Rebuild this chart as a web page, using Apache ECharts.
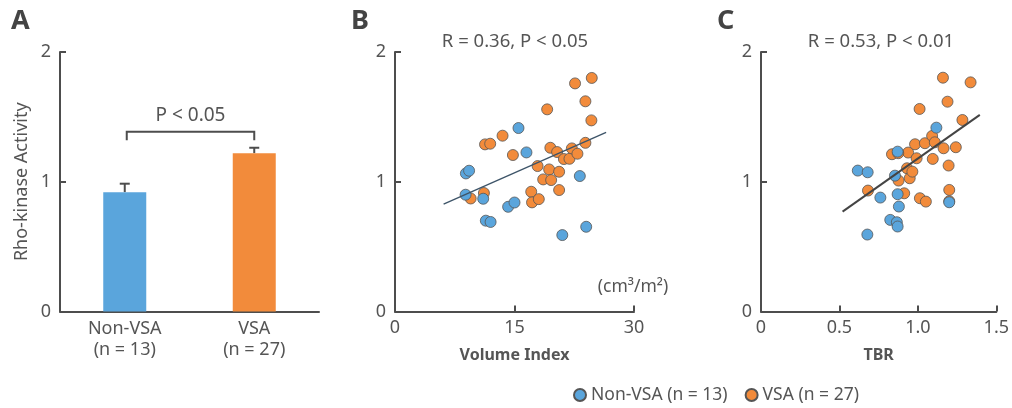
<!DOCTYPE html>
<html>
<head>
<meta charset="utf-8">
<script src="https://cdn.jsdelivr.net/npm/echarts@6/dist/echarts.min.js"></script>
<style>
html,body{margin:0;padding:0;background:#fff;}
#chart{width:1012px;height:408px;}
</style>
</head>
<body>
<div id="chart"></div>
<script>
// ---------- DATA ----------
const groupNames = ['Non-VSA (n = 13)', 'VSA (n = 27)'];
const categoriesA = ['Non-VSA\n(n = 13)', 'VSA\n(n = 27)'];
const meanA = [0.92, 1.22];
const errTopA = [0.985, 1.262];
const bracketA = [1.385, 1.32]; // bracket level, leg end
const pTextA = 'P < 0.05';

const yTicks = [0, 1, 2];
const volTicks = [0, 15, 30];
const tbrTicks = [0, 0.5, 1.0, 1.5];

// Panel B: Volume Index vs Rho-kinase activity
const volNonVSA = [[8.9,1.064],[9.3,1.085],[8.86,0.90],[11.07,0.869],[11.4,0.70],[12.0,0.69],[14.2,0.807],[15.0,0.84],[15.5,1.414],[16.5,1.226],[21.0,0.589],[23.2,1.044],[24.0,0.653]];
const volVSA = [[9.5,0.871],[11.16,0.913],[11.3,1.288],[11.95,1.293],[13.5,1.355],[14.8,1.206],[17.1,0.923],[17.2,0.841],[18.05,0.866],[17.9,1.121],[18.6,1.018],[19.1,1.558],[19.35,1.095],[19.6,1.013],[19.5,1.262],[20.35,1.229],[20.6,1.077],[20.6,0.936],[21.2,1.175],[21.9,1.177],[22.2,1.257],[22.9,1.216],[22.6,1.758],[23.9,1.62],[23.9,1.30],[24.7,1.80],[24.65,1.473]];
const fitB = [[6.1,0.828],[26.5,1.38]];
const statB = 'R = 0.36, P < 0.05';

// Panel C: TBR vs Rho-kinase activity
const tbrNonVSA = [[0.617,1.086],[0.680,1.073],[0.871,1.232],[0.854,1.047],[0.761,0.878],[0.871,0.904],[0.879,0.809],[0.824,0.706],[0.866,0.688],[0.871,0.655],[0.678,0.593],[1.118,1.417],[1.200,0.842]];
const tbrVSA = [[0.682,0.932],[0.835,1.212],[0.877,1.009],[0.913,0.911],[0.938,1.225],[0.931,1.104],[0.948,1.027],[0.965,1.078],[0.982,1.289],[0.992,1.181],[1.011,1.561],[1.013,0.873],[1.051,0.847],[1.045,1.297],[1.091,1.353],[1.095,1.176],[1.108,1.304],[1.160,1.802],[1.164,1.258],[1.189,1.617],[1.196,1.125],[1.200,0.937],[1.242,1.266],[1.284,1.476],[1.336,1.766],[0.875,1.22],[1.2,0.85]];
const fitC = [[0.52,0.77],[1.395,1.515]];
const statC = 'R = 0.53, P < 0.01';

const yName = 'Rho-kinase Activity';
const xNameB = 'Volume Index';
const xNameC = 'TBR';
const unitB = '(cm³/m²)';

// ---------- STYLE ----------
const FONT = 'Noto Sans';
const TXT = '#555';
const AX = '#4d4d4d';
const BLUE = '#5aa5dc';
const ORANGE = '#f28b3b';

const chart = echarts.init(document.getElementById('chart'), null, {renderer: 'canvas'});

function valueAxisY(gi, withName) {
  return {
    type: 'value', gridIndex: gi, min: 0, max: 2, interval: 1,
    axisLine: {show: true, lineStyle: {color: AX, width: 2}},
    axisTick: {show: true, inside: true, length: 6, lineStyle: {color: AX, width: 2}},
    axisLabel: {color: TXT, fontSize: 18, fontFamily: FONT, margin: 9},
    splitLine: {show: false},
    name: withName ? yName : '',
    nameLocation: 'middle', nameRotate: 90, nameGap: 29,
    nameTextStyle: {color: TXT, fontSize: 18, fontFamily: FONT}
  };
}
function valueAxisX(gi, max, interval, name, fmt) {
  return {
    type: 'value', gridIndex: gi, min: 0, max: max, interval: interval,
    axisLine: {show: true, onZero: false, lineStyle: {color: AX, width: 2}},
    axisTick: {show: true, inside: true, length: 6, lineStyle: {color: AX, width: 2}},
    axisLabel: {color: TXT, fontSize: 18, fontFamily: FONT, margin: 7, formatter: fmt},
    splitLine: {show: false},
    name: name, nameLocation: 'middle', nameGap: 36,
    nameTextStyle: {color: TXT, fontSize: 16, fontFamily: FONT, fontWeight: 'bold'}
  };
}

const dotStyle = (c) => ({color: c, borderColor: '#555', borderWidth: 0.8, opacity: 1});

const option = {
  animation: false,
  backgroundColor: '#fff',
  textStyle: {fontFamily: FONT},
  grid: [
    {left: 60, width: 259, top: 52, height: 259.5},
    {left: 395, width: 239, top: 52, height: 259.5},
    {left: 761, width: 239, top: 52, height: 259.5}
  ],
  xAxis: [
    {
      type: 'category', gridIndex: 0, data: categoriesA,
      axisLine: {show: true, lineStyle: {color: AX, width: 2}},
      axisTick: {show: false},
      axisLabel: {color: TXT, fontSize: 18, fontFamily: FONT, lineHeight: 21, margin: 7}
    },
    valueAxisX(1, 30, 15, xNameB, v => String(v)),
    valueAxisX(2, 1.5, 0.5, xNameC, v => v === 0 ? '0' : v.toFixed(1))
  ],
  yAxis: [valueAxisY(0, true), valueAxisY(1, false), valueAxisY(2, false)],
  legend: {
    data: groupNames, left: 568, top: 381, icon: 'circle',
    itemWidth: 12, itemHeight: 12, itemGap: 17,
    textStyle: {color: TXT, fontSize: 17.5, fontFamily: FONT}
  },
  series: [
    {
      type: 'bar', xAxisIndex: 0, yAxisIndex: 0, barWidth: 43,
      data: meanA.map((v, i) => ({value: v, itemStyle: {color: i === 0 ? BLUE : ORANGE}})),
      z: 3
    },
    {
      type: 'custom', xAxisIndex: 0, yAxisIndex: 0, z: 2,
      data: meanA.map((v, i) => [i, v, errTopA[i]]),
      renderItem: function (params, api) {
        const b = api.coord([api.value(0), api.value(1)]);
        const t = api.coord([api.value(0), api.value(2)]);
        const st = {stroke: AX, lineWidth: 2};
        return {type: 'group', children: [
          {type: 'line', shape: {x1: b[0], y1: b[1], x2: t[0], y2: t[1]}, style: st},
          {type: 'line', shape: {x1: t[0] - 5, y1: t[1], x2: t[0] + 5, y2: t[1]}, style: st}
        ]};
      }
    },
    {
      type: 'custom', xAxisIndex: 0, yAxisIndex: 0, z: 4,
      data: [[0, 1, bracketA[0], bracketA[1]]],
      renderItem: function (params, api) {
        const p1 = api.coord([api.value(0), api.value(3)]);
        const p2 = api.coord([api.value(0), api.value(2)]);
        const p3 = api.coord([api.value(1), api.value(2)]);
        const p4 = api.coord([api.value(1), api.value(3)]);
        return {type: 'group', children: [
          {type: 'polyline', shape: {points: [[p1[0] + 2, p1[1]], [p2[0] + 2, p2[1]], [p3[0], p3[1]], [p4[0], p4[1]]]},
           style: {stroke: AX, lineWidth: 2, fill: null}},
          {type: 'text', style: {text: pTextA, x: (p2[0] + p3[0]) / 2 + 1, y: p2[1] - 7,
            textAlign: 'center', textVerticalAlign: 'bottom', fill: TXT, fontSize: 19, fontFamily: FONT}}
        ]};
      }
    },
    {name: groupNames[1], type: 'scatter', xAxisIndex: 1, yAxisIndex: 1, data: volVSA, symbolSize: 11, itemStyle: dotStyle(ORANGE), z: 2},
    {name: groupNames[0], type: 'scatter', xAxisIndex: 1, yAxisIndex: 1, data: volNonVSA, symbolSize: 11, itemStyle: dotStyle(BLUE), z: 3},
    {type: 'line', xAxisIndex: 1, yAxisIndex: 1, data: fitB, symbol: 'none', lineStyle: {color: '#3d5468', width: 1.3}, z: 4, silent: true},
    {name: groupNames[1], type: 'scatter', xAxisIndex: 2, yAxisIndex: 2, data: tbrVSA, symbolSize: 11, itemStyle: dotStyle(ORANGE), z: 2},
    {name: groupNames[0], type: 'scatter', xAxisIndex: 2, yAxisIndex: 2, data: tbrNonVSA, symbolSize: 11, itemStyle: dotStyle(BLUE), z: 3},
    {type: 'line', xAxisIndex: 2, yAxisIndex: 2, data: fitC, symbol: 'none', lineStyle: {color: '#444', width: 2}, z: 4, silent: true}
  ],
  graphic: [
    {type: 'text', left: 11, top: 8, style: {text: 'A', fill: '#444', fontSize: 27, fontWeight: 'bold', fontFamily: FONT}},
    {type: 'text', left: 351, top: 8, style: {text: 'B', fill: '#444', fontSize: 27, fontWeight: 'bold', fontFamily: FONT}},
    {type: 'text', left: 717, top: 8, style: {text: 'C', fill: '#444', fontSize: 27, fontWeight: 'bold', fontFamily: FONT}},
    {type: 'text', x: 515, y: 42, style: {text: statB, fill: TXT, fontSize: 18.5, fontFamily: FONT, textAlign: 'center', textVerticalAlign: 'middle'}},
    {type: 'text', x: 881, y: 42, style: {text: statC, fill: TXT, fontSize: 18.5, fontFamily: FONT, textAlign: 'center', textVerticalAlign: 'middle'}},
    {type: 'text', x: 633, y: 287, style: {text: unitB, fill: TXT, fontSize: 17.5, fontFamily: FONT, textAlign: 'center', textVerticalAlign: 'middle'}}
  ]
};
chart.setOption(option);
</script>
</body>
</html>
